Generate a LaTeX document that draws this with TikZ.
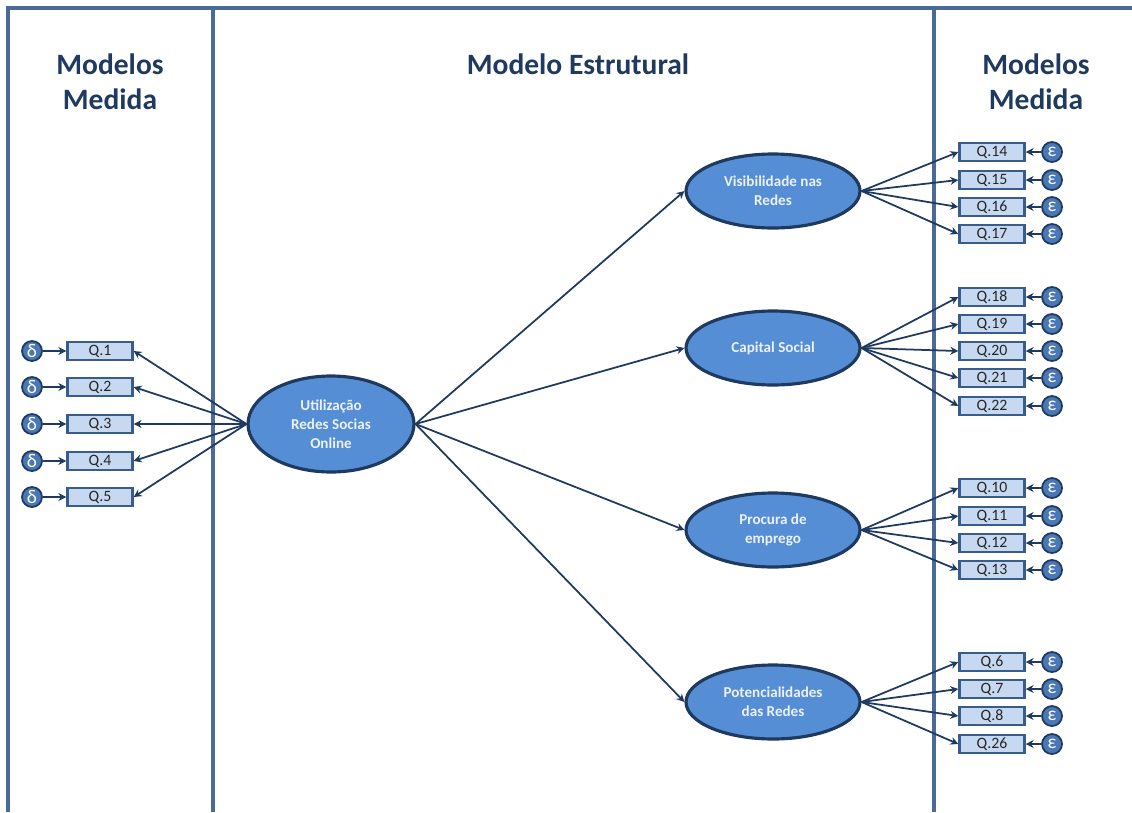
\documentclass[tikz,border=0pt]{standalone}
\usepackage{fontspec}
\setmainfont{Carlito}
\usetikzlibrary{shapes.geometric,arrows.meta}

\definecolor{navy}{HTML}{1F3A5F}
\definecolor{framecol}{HTML}{4A6A98}
\definecolor{fillell}{HTML}{558ED5}
\definecolor{fillbox}{HTML}{C6D9F1}
\definecolor{boxline}{HTML}{385D8A}
\definecolor{errfill}{HTML}{4A78B5}

\begin{document}
\begin{tikzpicture}[x=0.02cm,y=-0.02cm,
  frame/.style={draw=framecol, line width=2pt},
  title/.style={text=navy, font=\fontsize{16.8}{20}\selectfont\bfseries, align=center},
  latent/.style={ellipse, draw=navy, line width=1.8pt, fill=fillell, text=white!88!fillell,
    font=\fontsize{8.6}{10.8}\selectfont\bfseries, align=center, inner sep=0pt},
  item/.style={draw=boxline, line width=1.4pt, fill=fillbox, minimum width=1.3cm,
    minimum height=0.36cm, inner sep=0pt, font=\fontsize{9}{9}\selectfont, text=black!85},
  err/.style={circle, draw=navy, line width=1pt, fill=errfill, text=white,
    minimum size=0.4cm, inner sep=0pt, font=\fontsize{11}{11}\selectfont},
  link/.style={draw=navy, line width=1pt, -{Stealth[length=4.5pt,width=4.5pt]}}]
  \useasboundingbox (0,0) rectangle (1132,812);

  % frame of the three columns
  \draw[frame] (8,812) -- (8,8) -- (1132,8);
  \draw[frame] (213,8) -- (213,812);
  \draw[frame] (934,8) -- (934,812);

  \node[title] (tl) at (110,82) {Modelos\\Medida};
  \node[title] (tm) at (578,64) {Modelo Estrutural};
  \node[title] (tr) at (1036,82) {Modelos\\Medida};

  % latent variables
  \node[latent, minimum width=3.32cm, minimum height=1.92cm] (uso) at (331,424) {Utilização\\Redes Socias\\Online};
  \node[latent, minimum width=3.48cm, minimum height=1.48cm] (vis) at (773,191) {Visibilidade nas\\Redes};
  \node[latent, minimum width=3.48cm, minimum height=1.48cm] (cap) at (773,348) {Capital Social};
  \node[latent, minimum width=3.48cm, minimum height=1.48cm] (pro) at (773,530) {Procura de\\emprego};
  \node[latent, minimum width=3.48cm, minimum height=1.48cm] (pot) at (773,702) {Potencialidades\\das Redes};

  \foreach \f in {vis,cap,pro,pot}
    \draw[link] (uso.east) -- (\f.west);

  % left measurement model
  \foreach \q/\y in {1/351,2/387,3/424,4/461,5/497} {
    \node[item] (q\q) at (100,\y) {Q.\q};
    \node[err] (d\q) at (32,\y) {δ};
    \draw[link] (d\q) -- (q\q);
    \draw[link] (uso.west) -- (q\q.east);
  }

  % right measurement models
  \foreach \f/\list in {vis/{14/152,15/180,16/207,17/234},
                        cap/{18/297,19/324,20/351,21/378,22/406},
                        pro/{10/488,11/516,12/543,13/570},
                        pot/{6/662,7/689,8/716,26/744}} {
    \foreach \q/\y in \list {
      \node[item] (q\q) at (992,\y) {Q.\q};
      \node[err] (e\q) at (1052,\y) {ε};
      \draw[link] (e\q) -- (q\q);
      \draw[link] (\f.east) -- (q\q.west);
    }
  }
\end{tikzpicture}
\end{document}
